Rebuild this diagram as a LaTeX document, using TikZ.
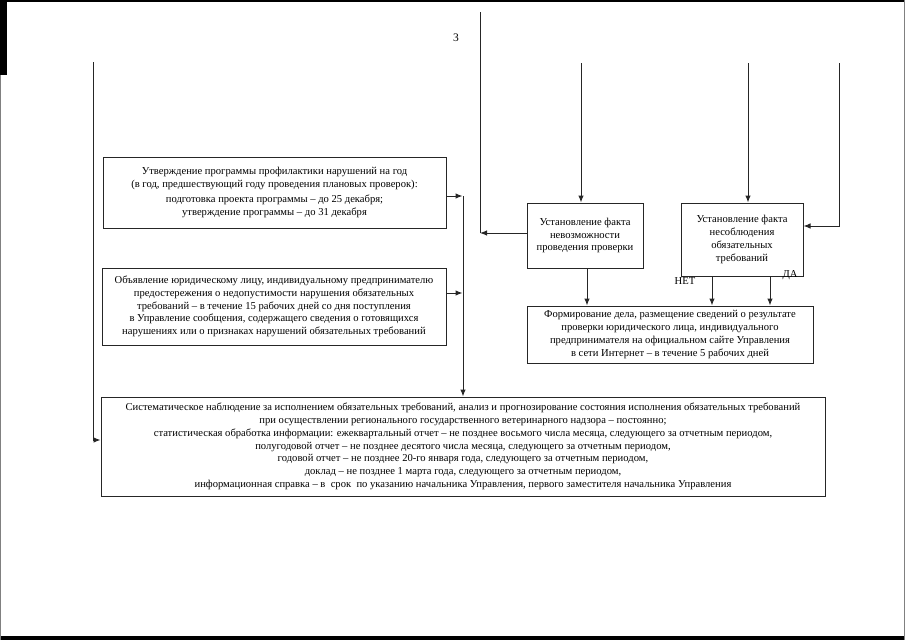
\documentclass[tikz,border=0pt]{standalone}
\usepackage{fontspec}
\setmainfont{Liberation Serif}
\usetikzlibrary{arrows.meta, positioning, calc}
\tikzset{
  box/.style={rectangle,draw=black!85,line width=1pt,align=center,
    inner sep=2pt,font=\fontsize{10.6}{12.8}\selectfont},
  lbl/.style={inner sep=0pt,font=\fontsize{10.6}{12.8}\selectfont},
  arrow/.style={-{Latex[length=7pt,width=5.5pt]},line width=1pt,draw=black!85},
  wire/.style={line width=1pt,draw=black!85},
  edge/.style={fill=black}
}
\begin{document}
\begin{tikzpicture}[x=1pt,y=-1pt]
  \useasboundingbox (0,0) rectangle (905,640);
  \fill[edge] (0,0) rectangle (905,2);
  \fill[edge] (0,0) rectangle (7,75);
  \fill[edge] (0,636) rectangle (905,640);
  \fill[black!50] (903.5,0) rectangle (905,640);
  \fill[black!50] (0,75) rectangle (1,640);

  \node[lbl,font=\fontsize{11.5}{13}\selectfont] (pg) at (456,38) {3};

  \node[box,minimum width=343pt,minimum height=71pt] (plan) at (274.5,192.5)
    {Утверждение программы профилактики нарушений на год\\
     (в год, предшествующий году проведения плановых проверок):\\[2pt]
     подготовка проекта программы – до 25 декабря;\\
     утверждение программы – до 31 декабря};
  \node[box,minimum width=344pt,minimum height=77pt] (warn) at (274,306.5)
    {Объявление юридическому лицу, индивидуальному предпринимателю\\
     предостережения о недопустимости нарушения обязательных\\
     требований – в течение 15 рабочих дней со дня поступления\\
     в Управление сообщения, содержащего сведения о готовящихся\\
     нарушениях или о признаках нарушений обязательных требований};
  \node[box,minimum width=116pt,minimum height=65pt] (imposs) at (585,235.5)
    {Установление факта\\ невозможности\\ проведения проверки};
  \node[box,minimum width=122pt,minimum height=73pt] (breach) at (742,239.5)
    {Установление факта\\ несоблюдения\\ обязательных\\ требований};
  \node[box,minimum width=286pt,minimum height=57pt] (case) at (670,334.5)
    {Формирование дела, размещение сведений о результате\\
     проверки юридического лица, индивидуального\\
     предпринимателя на официальном сайте Управления\\
     в сети Интернет – в течение 5 рабочих дней};
  \node[box,minimum width=724pt,minimum height=99pt] (watch) at (463,446.5)
    {Систематическое наблюдение за исполнением обязательных требований, анализ и прогнозирование состояния исполнения обязательных требований\\
     при осуществлении регионального государственного ветеринарного надзора – постоянно;\\
     статистическая обработка информации: ежеквартальный отчет – не позднее восьмого числа месяца, следующего за отчетным периодом,\\
     полугодовой отчет – не позднее десятого числа месяца, следующего за отчетным периодом,\\
     годовой отчет – не позднее 20-го января года, следующего за отчетным периодом,\\
     доклад – не позднее 1 марта года, следующего за отчетным периодом,\\
     информационная справка – в\ \ срок\ \ по указанию начальника Управления, первого заместителя начальника Управления};

  \node[lbl] (no) at (685,281) {НЕТ};
  \node[lbl] (yes) at (790,275) {ДА};

  \coordinate (inL) at (93,62);
  \coordinate (inM) at (480,12);
  \coordinate (inA) at (581,63);
  \coordinate (inB) at (748,63);
  \coordinate (inC) at (839,63);
  \coordinate (bus) at (463,196);
  \coordinate (outM) at (480,233);
  \coordinate (outN) at (587,268);
  \coordinate (outNo) at (712,276);
  \coordinate (outYes) at (770,276);

  \draw[arrow] (inL) |- ($(watch.west)+(0,-6.5)$);
  \draw[arrow] (inA) -- (inA |- imposs.north);
  \draw[arrow] (inB) -- (inB |- breach.north);
  \draw[arrow] (inC) |- ($(breach.east)+(0,-13.5)$);
  \draw[arrow] (imposs.west |- outM) -- (outM);
  \draw[wire] (inM) -- (outM);

  \draw[arrow] ($(plan.east)+(0,3.5)$) -- ++(16,0);
  \draw[arrow] ($(warn.east)+(0,-13.5)$) -- ++(16,0);
  \draw[arrow] (bus) -- (bus |- watch.north);

  \draw[arrow] (outN) -- (outN |- case.north);
  \draw[arrow] (outNo) -- (outNo |- case.north);
  \draw[arrow] (outYes) -- (outYes |- case.north);
\end{tikzpicture}
\end{document}
